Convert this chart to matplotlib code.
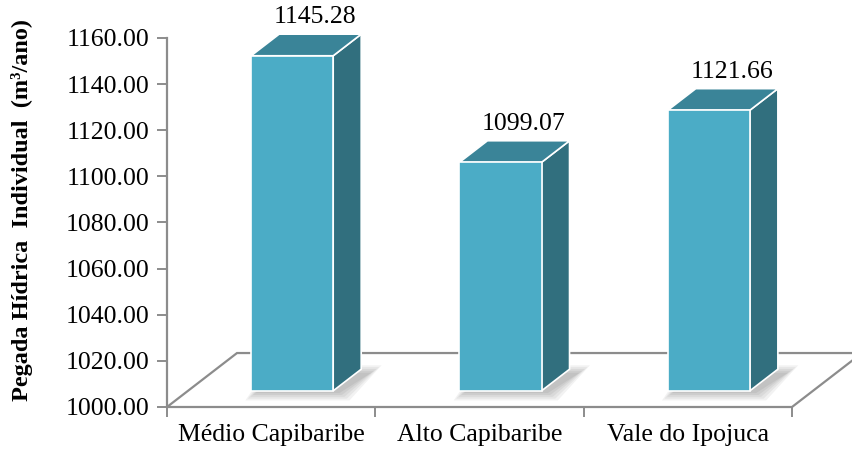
import matplotlib.pyplot as plt
from matplotlib.patches import Polygon

plt.rcParams['font.family'] = ['Liberation Serif', 'DejaVu Serif']

# data
categorias = ['Médio Capibaribe', 'Alto Capibaribe', 'Vale do Ipojuca']
valores = [1145.28, 1099.07, 1121.66]
yticks = [1000, 1020, 1040, 1060, 1080, 1100, 1120, 1140, 1160]

# cores (estilo Excel 3D)
c_frente = '#4BACC6'
c_lado = '#316F7E'
c_topo = '#3A8498'
c_linha = '#8C8C8C'

fig = plt.figure(figsize=(8.53, 4.5), dpi=100)
ax = fig.add_axes([167/853, (450-407)/450, (792-167)/853, (407-38)/450])
ax.set_xlim(-0.5, 2.5)
ax.set_ylim(1000, 1160)

# profundidade do piso (unidades de dados)
Dx, Dy = 0.336, 23.4
fdx, fdy = 0.3*Dx, 0.3*Dy   # face da frente das barras
bdx, bdy = 0.4*Dx, 0.4*Dy   # profundidade das barras
larg = 0.394

# piso
piso = Polygon([(-0.5, 1000), (2.5, 1000), (2.5+Dx, 1000+Dy), (-0.5+Dx, 1000+Dy)],
               closed=True, facecolor='white', edgecolor=c_linha, lw=1.6,
               clip_on=False, zorder=1)
ax.add_patch(piso)

# sombras
for i, v in enumerate(valores):
    cx = i + fdx
    for k in range(5):
        e = 0.012*k
        ey = 0.8*k
        pts = [(cx - larg/2 - e + 0.02, 1000 + fdy - ey - 1.0),
               (cx + larg/2 + e + 0.03, 1000 + fdy - ey - 1.0),
               (cx + larg/2 + bdx + e + 0.05, 1000 + fdy + bdy + ey - 1.5),
               (cx - larg/2 + bdx - e, 1000 + fdy + bdy + ey - 1.5)]
        ax.add_patch(Polygon(pts, closed=True, facecolor='black', alpha=0.05,
                             edgecolor='none', clip_on=False, zorder=2))

# barras
xs = [i + fdx for i in range(len(valores))]
alturas = [v - 1000 for v in valores]
ax.bar(xs, alturas, width=larg, bottom=1000 + fdy, color=c_frente,
       edgecolor='white', linewidth=1.2, zorder=4, clip_on=False)

for i, v in enumerate(valores):
    x0 = xs[i] - larg/2
    x1 = xs[i] + larg/2
    y0 = 1000 + fdy
    y1 = v + fdy
    lado = Polygon([(x1, y0), (x1 + bdx, y0 + bdy), (x1 + bdx, y1 + bdy), (x1, y1)],
                   closed=True, facecolor=c_lado, edgecolor='white', lw=1.2,
                   clip_on=False, zorder=3)
    topo = Polygon([(x0, y1), (x1, y1), (x1 + bdx, y1 + bdy), (x0 + bdx, y1 + bdy)],
                   closed=True, facecolor=c_topo, edgecolor='white', lw=1.2,
                   clip_on=False, zorder=3)
    ax.add_patch(lado)
    ax.add_patch(topo)
    ax.text(i + 0.21, y1 + bdy + 2.5, '%.2f' % v, ha='center', va='bottom',
            fontsize=18.5, color='black')

# eixos
for s in ['top', 'right', 'bottom']:
    ax.spines[s].set_visible(False)
ax.spines['left'].set_color(c_linha)
ax.spines['left'].set_linewidth(1.6)
ax.spines['left'].set_zorder(1)

ax.set_yticks(yticks)
ax.set_yticklabels(['%.2f' % t for t in yticks], fontsize=18.5)
ax.tick_params(axis='y', length=7, width=1.4, color=c_linha, pad=6)

ax.set_xticks([0, 1, 2])
ax.set_xticklabels(categorias, fontsize=18.5)
ax.set_xticks([-0.5, 0.5, 1.5, 2.5], minor=True)
ax.tick_params(axis='x', which='major', length=0, pad=12)
ax.tick_params(axis='x', which='minor', length=7, width=1.4, color=c_linha)

fig.text(22/853, 1 - 210/450, 'Pegada Hídrica  Individual  (m³/ano)', rotation=90,
         ha='center', va='center', fontsize=17.5, fontweight='bold')

fig.savefig('out.png', dpi=100)
